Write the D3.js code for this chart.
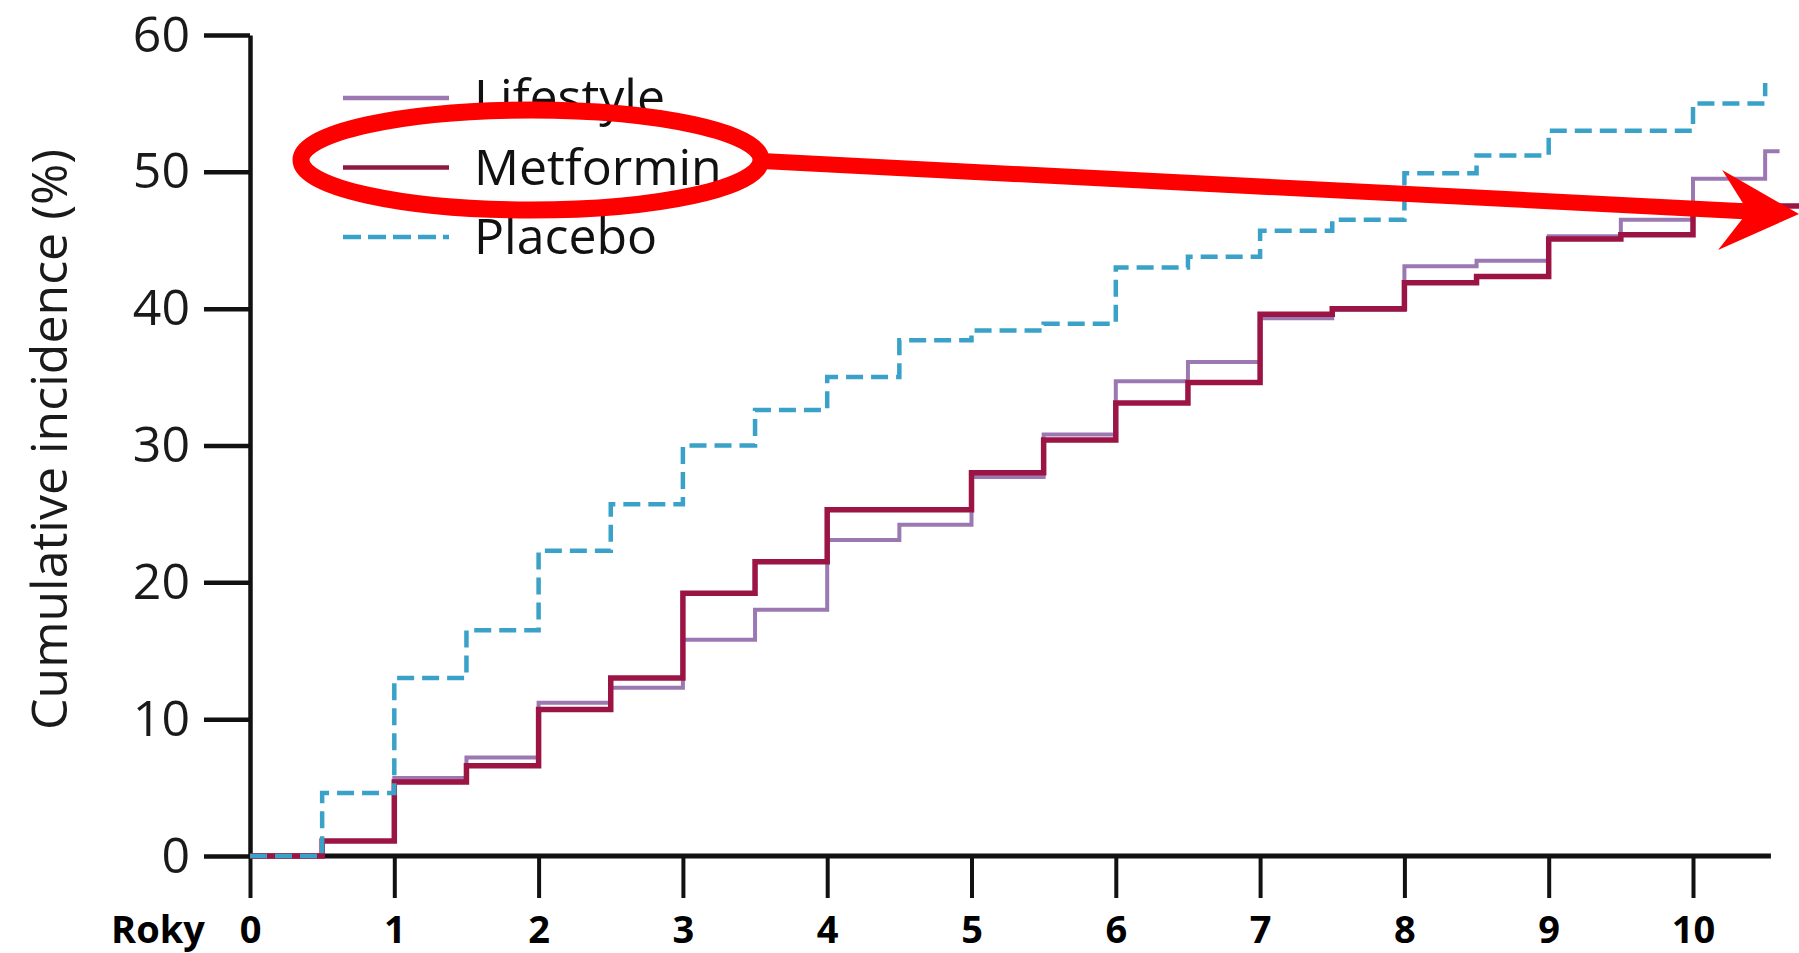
<!DOCTYPE html>
<html>
<head>
<meta charset="utf-8">
<script src="https://cdn.jsdelivr.net/npm/d3@7"></script>
<style>
  html, body { margin: 0; padding: 0; background: #ffffff; }
  svg { display: block; }
</style>
</head>
<body>
<svg id="chart" width="1799" height="953"></svg>
<script>
// ---- data ----
const years     = [0, 0.5, 1, 1.5, 2, 2.5, 3, 3.5, 4, 4.5, 5, 5.5, 6, 6.5, 7, 7.5, 8, 8.5, 9, 9.5, 10, 10.5];
const lifestyle = [0, 1.1, 5.7, 7.2, 11.2, 12.3, 15.8, 18.0, 23.1, 24.2, 27.7, 30.8, 34.7, 36.1, 39.3, 39.9, 43.1, 43.5, 45.3, 46.5, 49.5, 51.5];
const metformin = [0, 1.1, 5.4, 6.6, 10.7, 13.0, 19.2, 21.5, 25.3, 25.3, 28.0, 30.4, 33.1, 34.6, 39.6, 40.0, 41.9, 42.35, 45.1, 45.4, 47.5, 47.5];
const placebo   = [0, 4.6, 13.0, 16.5, 22.3, 25.7, 30.0, 32.6, 35.0, 37.7, 38.4, 38.9, 43.0, 43.8, 45.7, 46.5, 49.9, 51.2, 53.0, 53.0, 55.0, 56.5];
const seriesNames = ["Lifestyle", "Metformin", "Placebo"];
const seriesEnd   = [10.6, 10.75, 10.5];   // last follow-up time of each curve
const xTicks = [0, 1, 2, 3, 4, 5, 6, 7, 8, 9, 10];
const yTicks = [0, 10, 20, 30, 40, 50, 60];
const xLabel = "Roky";
const yLabel = "Cumulative incidence (%)";
const xAxisEnd = 10.54;

// ---- styles ----
const colors = { Lifestyle: "#9c78b3", Metformin: "#9b1444", Placebo: "#3aa2c8" };
const widths = { Lifestyle: 4, Metformin: 5.5, Placebo: 4.5 };
const dashes = { Lifestyle: null, Metformin: null, Placebo: "17,8" };

const svg = d3.select("#chart");
const x = d3.scaleLinear().domain([0, 10]).range([250, 1693]);
const y = d3.scaleLinear().domain([0, 60]).range([856, 35]);

const fontReg = "'Open Sans', 'Noto Sans', sans-serif";

// ---- x axis ----
const gx = svg.append("g").attr("transform", `translate(0,${y(0)})`)
  .call(d3.axisBottom(x).tickValues(xTicks).tickSize(42).tickSizeOuter(0).tickFormat(d3.format("d")));
gx.select(".domain").remove();
gx.selectAll(".tick line").attr("stroke", "#111").attr("stroke-width", 4);
gx.selectAll(".tick text")
  .attr("y", 87).attr("dy", 0)
  .attr("fill", "#000")
  .style("font-family", fontReg).style("font-weight", 700).style("font-size", "38px");
svg.append("line")
  .attr("x1", x(0)).attr("x2", x(xAxisEnd))
  .attr("y1", y(0)).attr("y2", y(0))
  .attr("stroke", "#111").attr("stroke-width", 5);
svg.append("text")
  .attr("x", 158).attr("y", 943)
  .attr("text-anchor", "middle")
  .style("font-family", fontReg).style("font-weight", 700).style("font-size", "38px")
  .attr("fill", "#000")
  .text(xLabel);

// ---- y axis ----
const gy = svg.append("g").attr("transform", `translate(${x(0)},0)`)
  .call(d3.axisLeft(y).tickValues(yTicks).tickSize(46).tickSizeOuter(0).tickPadding(14));
gy.select(".domain").attr("stroke", "#111").attr("stroke-width", 4.5);
gy.selectAll(".tick line").attr("stroke", "#111").attr("stroke-width", 4.5);
gy.selectAll(".tick text")
  .attr("fill", "#1a1a1a")
  .style("font-family", fontReg).style("font-size", "50px");
svg.append("text")
  .attr("transform", `translate(67,${(y(0) + y(60)) / 2 - 6}) rotate(-90)`)
  .attr("text-anchor", "middle")
  .style("font-family", fontReg).style("font-size", "50px")
  .attr("fill", "#1a1a1a")
  .text(yLabel);

// ---- curves ----
const line = d3.line().x(d => x(d[0])).y(d => y(d[1])).curve(d3.curveStepAfter);
const seriesValues = [lifestyle, metformin, placebo];
seriesNames.forEach((name, i) => {
  const vals = seriesValues[i];
  const pts = years.map((t, j) => [t, vals[j]]);
  pts.push([seriesEnd[i], vals[vals.length - 1]]);
  svg.append("path")
    .attr("d", line(pts))
    .attr("fill", "none")
    .attr("stroke", colors[name])
    .attr("stroke-width", widths[name])
    .attr("stroke-dasharray", dashes[name])
    .attr("stroke-linejoin", "miter");
});

// ---- legend ----
const legend = svg.append("g").attr("transform", "translate(343,98)");
seriesNames.forEach((name, i) => {
  const g = legend.append("g").attr("transform", `translate(0,${i * 69.5})`);
  g.append("line")
    .attr("x1", 0).attr("x2", 106).attr("y1", 0).attr("y2", 0)
    .attr("stroke", name === "Metformin" ? "#8e1a42" : colors[name])
    .attr("stroke-width", 4.5)
    .attr("stroke-dasharray", name === "Placebo" ? "18,7" : null);
  g.append("text")
    .attr("x", 131).attr("y", 17)
    .style("font-family", fontReg).style("font-size", "50px")
    .attr("fill", "#111")
    .text(name);
});

// ---- annotation: red ellipse and arrow ----
svg.append("ellipse")
  .attr("cx", 531).attr("cy", 160).attr("rx", 230).attr("ry", 50)
  .attr("fill", "none").attr("stroke", "#ff0000").attr("stroke-width", 17);
const arrow = svg.append("g").attr("transform", "translate(1799,214) rotate(2.92)");
arrow.append("line")
  .attr("x1", -1040).attr("y1", 0).attr("x2", -50).attr("y2", 0)
  .attr("stroke", "#ff0000").attr("stroke-width", 16);
arrow.append("path")
  .attr("d", "M0,0 L-79,-40 L-51,0 L-79,40 Z")
  .attr("fill", "#ff0000");
</script>
</body>
</html>
